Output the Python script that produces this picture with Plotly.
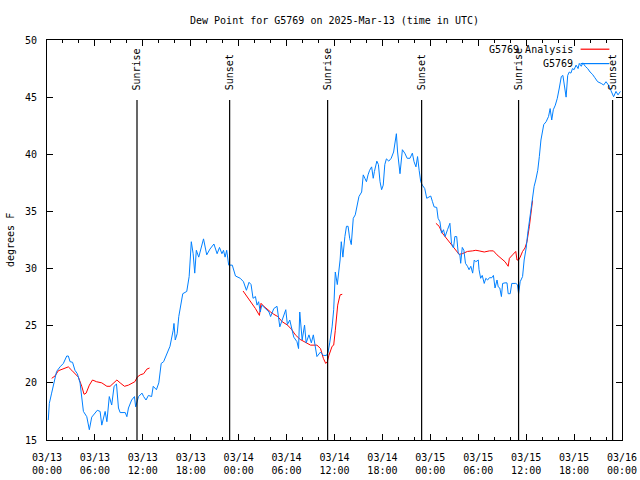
import pandas as pd
import plotly.graph_objects as go

TITLE = "Dew Point for G5769 on 2025-Mar-13 (time in UTC)"
BASE = pd.Timestamp("2025-03-13 00:00")

# Observed dew point (G5769): hours since 03/13 00:00 UTC, degrees F
obs_hours = [0.16, 0.29, 0.58, 1.0, 1.2, 1.63, 2.05, 2.47, 2.67, 2.89, 3.2, 3.5, 3.8, 4.14, 4.35, 4.56, 4.98,
             5.3, 5.6, 6.0, 6.3, 6.65, 6.86, 7.28, 7.5, 7.8, 8.1, 8.4, 8.7, 8.95, 9.16, 9.8, 10.0, 10.2, 10.6,
             10.95, 11.1, 11.46, 11.9, 12.1, 12.4, 12.7, 13.1, 13.3, 13.7, 14.0, 14.3, 14.6, 15.0, 15.4, 15.8,
             15.9, 16.06, 16.3, 16.5, 16.7, 17.0, 17.5, 17.8, 18.07, 18.3, 18.5, 18.7, 19.0, 19.3, 19.6, 20.0,
             20.4, 20.9, 21.3, 21.6, 21.9, 22.1, 22.3, 22.5, 22.75, 23.2, 23.6, 24.2, 24.6, 24.97, 25.3, 25.55,
             25.8, 26.1, 26.3, 26.5, 26.7, 26.9, 27.35, 27.8, 28.0, 28.4, 28.8, 29.15, 29.45, 29.9, 30.1, 30.4,
             30.7, 30.9, 31.3, 31.5, 31.65, 31.95, 32.25, 32.45, 32.8, 33.1, 33.35, 33.6, 33.8, 34.25, 34.6,
             35.0, 35.2, 35.4, 35.7, 35.9, 36.1, 36.35, 36.7, 36.85, 37.05, 37.3, 37.5, 37.7, 37.9, 38.1, 38.35,
             38.6, 38.85, 39.06, 39.4, 39.6, 39.8, 40.0, 40.2, 40.4, 40.65, 40.85, 41.0, 41.3, 41.5, 41.7, 41.9,
             42.1, 42.3, 42.5, 42.8, 43.1, 43.4, 43.6, 43.75, 43.9, 44.05, 44.2, 44.5, 44.8, 45.1, 45.45, 45.75,
             45.96, 46.2, 46.4, 46.6, 46.8, 47.0, 47.3, 47.55, 47.85, 48.05, 48.27, 48.47, 48.8, 48.97, 49.2,
             49.4, 49.65, 49.85, 50.15, 50.45, 50.65, 50.9, 51.07, 51.3, 51.5, 51.7, 51.8, 52.0, 52.2, 52.4,
             52.65, 52.85, 53.07, 53.3, 53.5, 53.7, 54.0, 54.1, 54.3, 54.5, 54.75, 54.95, 55.17, 55.4, 55.7,
             55.9, 56.1, 56.35, 56.5, 56.7, 56.9, 57.05, 57.35, 57.6, 57.75, 58.0, 58.2, 58.7, 58.9, 59.05,
             59.25, 59.55, 59.75, 60.0, 60.2, 60.4, 60.6, 60.8, 61.0, 61.2, 61.45, 61.65, 61.85, 62.2, 62.5,
             62.8, 63.0, 63.2, 63.4, 63.65, 63.9, 64.15, 64.4, 64.6, 64.8, 65.0, 65.2, 65.4, 65.6, 65.8, 66.0,
             66.25, 66.5, 66.65, 66.9, 67.1, 67.4, 67.7, 68.0, 68.3, 68.6, 68.95, 69.4, 69.7, 70.0, 70.3, 70.6,
             70.95, 71.25, 71.5, 71.8]
obs_vals = [16.75, 18.2, 19.1, 20.54, 21.0, 21.4, 21.7, 22.35, 22.35, 21.85, 21.8, 21.1, 20.8, 20.0, 18.5, 17.5,
            17.04, 15.9, 17.0, 17.3, 17.6, 17.5, 16.3, 17.5, 16.6, 18.8, 18.06, 19.7, 19.9, 17.8, 17.4, 17.4,
            17.04, 17.8, 18.5, 18.8, 17.9, 18.8, 19.1, 18.8, 18.5, 18.9, 18.8, 19.7, 19.4, 20.0, 21.7, 21.85,
            22.6, 23.2, 24.6, 25.2, 23.75, 24.3, 25.8, 26.7, 27.8, 28.0, 29.3, 32.35, 31.3, 29.6, 31.6, 31.0,
            31.9, 32.6, 31.2, 31.7, 32.15, 31.3, 31.85, 31.3, 31.6, 31.0, 31.6, 30.3, 30.3, 29.35, 29.15, 28.85,
            28.1, 28.8, 28.6, 27.4, 27.55, 26.8, 27.1, 26.2, 26.8, 26.5, 26.2, 25.8, 26.5, 26.7, 24.9, 25.5,
            26.4, 25.1, 25.5, 24.6, 24.0, 23.6, 23.0, 26.2, 23.75, 25.06, 23.5, 24.2, 23.5, 24.2, 23.3, 22.3,
            22.7, 22.4, 22.4, 22.7, 23.5, 24.9, 26.4, 29.7, 28.6, 30.75, 32.35, 31.0, 32.8, 33.7, 33.7, 32.65,
            32.1, 34.4, 34.7, 35.7, 36.3, 36.7, 38.2, 37.9, 37.6, 38.2, 38.6, 38.9, 37.9, 38.5, 39.4, 39.1,
            37.6, 36.9, 37.3, 39.1, 39.6, 39.4, 39.65, 40.2, 41.25, 41.8, 40.2, 39.1, 38.3, 40.4, 40.1, 39.65,
            39.65, 40.1, 39.35, 38.9, 39.8, 38.6, 37.6, 37.3, 37.0, 36.15, 36.3, 36.35, 35.85, 35.4, 35.35,
            34.4, 34.1, 33.1, 33.4, 32.8, 33.4, 33.96, 32.2, 31.8, 32.8, 32.8, 31.3, 31.2, 30.46, 31.85, 31.6,
            30.46, 30.2, 29.9, 30.2, 29.6, 30.75, 30.6, 30.75, 29.9, 29.15, 29.4, 28.7, 29.15, 29.0, 29.2, 29.2,
            29.4, 28.3, 29.0, 28.4, 28.3, 27.55, 28.7, 28.75, 28.75, 27.8, 27.8, 28.7, 28.7, 28.6, 27.8, 28.85,
            29.3, 30.75, 31.8, 33.1, 34.1, 35.1, 36.3, 37.2, 37.75, 38.6, 39.8, 41.25, 42.6, 42.85, 43.3, 44.0,
            43.0, 43.9, 44.3, 44.9, 45.8, 46.8, 46.9, 46.05, 45.0, 46.9, 47.2, 47.1, 47.5, 47.4, 47.8, 47.5,
            47.95, 47.7, 48.0, 47.7, 47.5, 47.2, 47.0, 46.7, 46.35, 46.2, 46.06, 46.35, 46.06, 45.6, 45.04,
            45.5, 45.2, 45.5]

# Analysis (three separate segments)
ana1_hours = [0.59, 1.0, 1.42, 2.05, 2.67, 3.1, 3.5, 3.93, 4.35, 4.64, 4.9, 5.3, 5.7, 6.2, 6.86, 7.5, 7.9, 8.3,
              8.75, 9.16, 9.7, 10.2, 10.75, 11.0, 11.3, 11.67, 12.1, 12.5, 12.84]
ana1_vals = [20.4, 20.6, 21.06, 21.2, 21.4, 21.1, 20.8, 20.5, 19.7, 19.0, 19.1, 19.8, 20.25, 20.1, 20.0, 19.7,
             19.7, 20.0, 20.25, 20.0, 19.7, 19.8, 20.0, 20.1, 20.5, 20.7, 20.8, 21.2, 21.3]
ana2_hours = [24.55, 25.05, 25.7, 26.1, 26.6, 26.8, 27.15, 27.6, 28.0, 28.4, 28.9, 29.45, 30.1, 30.6, 31.1,
              31.7, 32.4, 33.0, 33.8, 34.25, 34.6, 34.9, 35.1, 35.3, 35.7, 35.9, 36.1, 36.4, 36.7, 36.97]
ana2_vals = [28.04, 27.55, 26.9, 26.5, 25.9, 26.96, 26.7, 26.4, 26.2, 26.0, 25.8, 25.35, 25.06, 24.7, 24.2,
             23.8, 23.5, 23.3, 23.3, 23.0, 22.15, 21.7, 21.85, 22.4, 23.2, 23.3, 24.6, 26.8, 27.7, 27.75]
ana3_hours = [48.7, 49.1, 49.5, 49.9, 50.35, 50.8, 51.2, 51.6, 52.0, 52.65, 53.3, 53.7, 54.1, 54.75, 55.4, 55.9,
              56.35, 56.85, 57.35, 57.75, 57.9, 58.3, 58.7, 58.85, 59.05, 59.25, 59.55, 59.85, 60.1, 60.4,
              60.6, 60.8]
ana3_vals = [33.96, 33.7, 33.1, 32.75, 32.35, 31.9, 31.6, 31.25, 31.3, 31.5, 31.55, 31.6, 31.55, 31.45, 31.55,
             31.55, 31.2, 30.9, 30.6, 30.2, 30.9, 31.2, 31.5, 30.75, 30.75, 31.0, 31.5, 31.8, 32.35, 33.7,
             35.1, 35.96]

# Sun events (hours since 03/13 00:00 UTC)
event_names = ["Sunrise", "Sunset", "Sunrise", "Sunset", "Sunrise", "Sunset"]
event_hours = [11.27, 22.87, 35.14, 46.91, 59.05, 70.82]

legend_names = ["G5769 Analysis", "G5769"]
colors = ["#ff0000", "#0080ff"]

Y_MIN, Y_MAX = 15, 50
EVENT_LINE_TOP = 44.75
EVENT_LABEL_Y = 45.4


def to_time(hours):
    return [BASE + pd.Timedelta(hours=h) for h in hours]


ana_x, ana_y = [], []
for hs, vs in [(ana1_hours, ana1_vals), (ana2_hours, ana2_vals), (ana3_hours, ana3_vals)]:
    if ana_x:
        ana_x.append(None)
        ana_y.append(None)
    ana_x.extend(to_time(hs))
    ana_y.extend(vs)

FONT = "DejaVu Sans Mono, Liberation Mono, monospace"

fig = go.Figure()
fig.add_trace(go.Scatter(x=ana_x, y=ana_y, mode="lines", name=legend_names[0],
                         line=dict(color=colors[0], width=1), connectgaps=False, showlegend=False))
fig.add_trace(go.Scatter(x=to_time(obs_hours), y=obs_vals, mode="lines", name=legend_names[1],
                         line=dict(color=colors[1], width=1), showlegend=False))

shapes = []
annotations = []
for name, h in zip(event_names, event_hours):
    t = BASE + pd.Timedelta(hours=h)
    shapes.append(dict(type="line", xref="x", yref="y", x0=t, x1=t, y0=Y_MIN, y1=EVENT_LINE_TOP,
                       line=dict(color="black", width=1.2)))
    annotations.append(dict(x=t, y=EVENT_LABEL_Y, xref="x", yref="y", text=name, textangle=-90,
                            showarrow=False, xanchor="center", yanchor="bottom",
                            font=dict(family=FONT, size=10, color="black")))

# gnuplot-style legend (text, then sample line) in the upper right
for i, (name, c) in enumerate(zip(legend_names, colors)):
    ly = 0.977 - i * 0.036
    annotations.append(dict(x=0.918, y=ly, xref="paper", yref="paper", text=name, showarrow=False,
                            xanchor="right", yanchor="middle",
                            font=dict(family=FONT, size=10, color="black")))
    shapes.append(dict(type="line", xref="paper", yref="paper", x0=0.928, x1=0.978, y0=ly, y1=ly,
                       line=dict(color=c, width=1.2)))

annotations.append(dict(x=-0.0643, y=0.5, xref="paper", yref="paper", text="degrees F", textangle=-90,
                        showarrow=False, xanchor="center", yanchor="middle",
                        font=dict(family=FONT, size=10, color="black")))

fig.update_layout(
    width=640, height=480,
    margin=dict(l=47, r=18, t=40, b=40, autoexpand=False),
    paper_bgcolor="white", plot_bgcolor="white",
    font=dict(family=FONT, size=10, color="black"),
    title=dict(text=TITLE, x=0.5, xref="paper", xanchor="center", y=1 - 20 / 480, yref="container",
               yanchor="middle", font=dict(family=FONT, size=10, color="black")),
    shapes=shapes, annotations=annotations,
    showlegend=False,
)
fig.update_xaxes(
    type="date", range=[BASE, BASE + pd.Timedelta(hours=72)],
    tick0=BASE, dtick=6 * 3600 * 1000, tickformat="%m/%d<br>%H:%M",
    ticks="inside", ticklen=6, tickcolor="black", tickwidth=1,
    minor=dict(dtick=2 * 3600 * 1000, ticks="inside", ticklen=3, tickcolor="black", showgrid=False),
    showgrid=False, zeroline=False, showline=True, linecolor="black", linewidth=1, mirror="allticks",
    tickfont=dict(family=FONT, size=10, color="black"), ticklabelstandoff=8, automargin=False,
)
fig.update_yaxes(
    range=[Y_MIN, Y_MAX], dtick=5, tick0=0,
    ticks="inside", ticklen=6, tickcolor="black", tickwidth=1,
    showgrid=False, zeroline=False, showline=True, linecolor="black", linewidth=1, mirror="allticks",
    tickfont=dict(family=FONT, size=10, color="black"), ticklabelstandoff=7, automargin=False,
)

fig.write_html("out.html", config={"displayModeBar": False},
               post_script="document.body.style.margin='0';")
